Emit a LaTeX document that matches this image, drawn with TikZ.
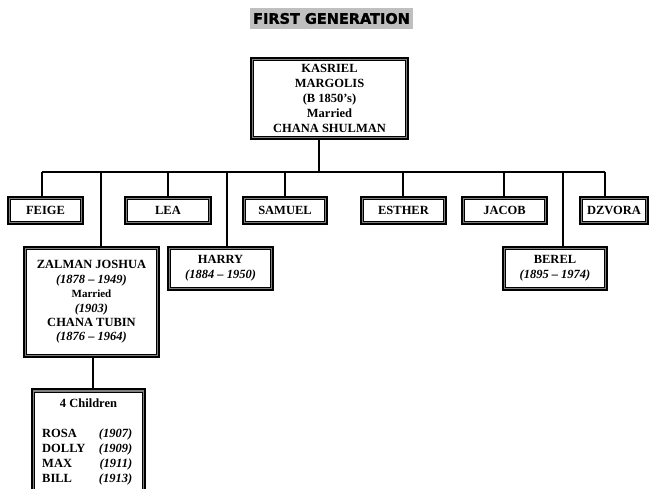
\documentclass[tikz,border=0pt]{standalone}
\usepackage{fontspec}
\setmainfont{Liberation Serif}
\newfontfamily\titlefont[BoldFeatures={FakeBold=1.6}]{DejaVu Sans}
\begin{document}
\begin{tikzpicture}[x=1pt,y=-1pt,
  famBox/.style={draw=black, line width=2.4pt, fill=black!50, inner sep=0pt, align=center,
    font=\bfseries\fontsize{12.5}{15}\selectfont,
    path picture={\draw[line width=0.8pt, fill=white]
      ([shift={(2.7pt,-2.7pt)}]path picture bounding box.north west) rectangle
      ([shift={(-2.7pt,2.7pt)}]path picture bounding box.south east);}},
  rowBox/.style={famBox, minimum height=27pt},
  link/.style={line width=1.6pt, draw=black}
]
\useasboundingbox (0,0) rectangle (651,488);
\fill[white] (0,0) rectangle (651,488);

% title
\node[fill=black!25, minimum width=163pt, minimum height=21pt, inner sep=0pt,
      font=\titlefont\bfseries\fontsize{14.5}{17}\selectfont] (title) at (331.5,18.5) {FIRST GENERATION};

% parents
\node[famBox, minimum width=157pt, minimum height=81pt] (kas) at (329.5,98.5)
  {KASRIEL\\MARGOLIS\\(B 1850’s)\\Married\\CHANA SHULMAN};

% first row of children
\node[rowBox, minimum width=75pt] (feige) at (45.5,210.5) {FEIGE};
\node[rowBox, minimum width=86pt] (lea) at (168,210.5) {LEA};
\node[rowBox, minimum width=84pt] (samuel) at (285,210.5) {SAMUEL};
\node[rowBox, minimum width=85pt] (esther) at (403.5,210.5) {ESTHER};
\node[rowBox, minimum width=85pt] (jacob) at (504.5,210.5) {JACOB};
\node[rowBox, minimum width=68pt] (dzvora) at (614,210.5) {DZVORA};

% second row
\node[famBox, minimum width=135pt, minimum height=110pt, font=\bfseries\fontsize{12.5}{14.4}\selectfont] (zalman) at (91.5,302)
  {ZALMAN JOSHUA\\\textit{(1878 – 1949)}\\{\fontsize{11}{14.4}\selectfont Married}\\\textit{(1903)}\\CHANA TUBIN\\\textit{(1876 – 1964)}};
\node[famBox, minimum width=105pt, minimum height=43pt] (harry) at (220.5,268.5)
  {HARRY\\\textit{(1884 – 1950)}};
\node[famBox, minimum width=104pt, minimum height=43pt] (berel) at (555,268.5)
  {BEREL\\\textit{(1895 – 1974)}};

% grandchildren
\node[famBox, minimum width=113pt, minimum height=110pt, anchor=north] (kids) at (88.5,388) {};
\node[anchor=base, font=\bfseries\fontsize{12.5}{15}\selectfont] (kidhead) at (88.5,407) {4 Children};
\node[anchor=base west, inner sep=0pt, font=\bfseries\fontsize{12.5}{15}\selectfont] (kidlist) at (42,437)
  {\begin{tabular*}{90pt}[t]{@{}l@{\extracolsep{\fill}}r@{}}
   ROSA & \textit{(1907)}\\
   DOLLY & \textit{(1909)}\\
   MAX & \textit{(1911)}\\
   BILL & \textit{(1913)}
   \end{tabular*}};

% connectors
\coordinate (busL) at (42,172);
\coordinate (busR) at (605,172);
\draw[link] ([xshift=-10.5pt]kas.south) -- ([xshift=-10.5pt]kas.south |- busL);
\draw[link] (busL) -- (busR);
\draw[link] ([xshift=-3.5pt]feige.north) -- ([xshift=-3.5pt]feige.north |- busL);
\draw[link] ([xshift=9.5pt]zalman.north) -- ([xshift=9.5pt]zalman.north |- busL);
\draw[link] (lea.north) -- (lea.north |- busL);
\draw[link] ([xshift=6.5pt]harry.north) -- ([xshift=6.5pt]harry.north |- busL);
\draw[link] (samuel.north) -- (samuel.north |- busL);
\draw[link] ([xshift=-0.5pt]esther.north) -- ([xshift=-0.5pt]esther.north |- busL);
\draw[link] ([xshift=-0.5pt]jacob.north) -- ([xshift=-0.5pt]jacob.north |- busL);
\draw[link] ([xshift=8pt]berel.north) -- ([xshift=8pt]berel.north |- busL);
\draw[link] ([xshift=-9pt]dzvora.north) -- ([xshift=-9pt]dzvora.north |- busL);
\draw[link] ([xshift=1.5pt]zalman.south) -- ([xshift=1.5pt]zalman.south |- kids.north);
\end{tikzpicture}
\end{document}
